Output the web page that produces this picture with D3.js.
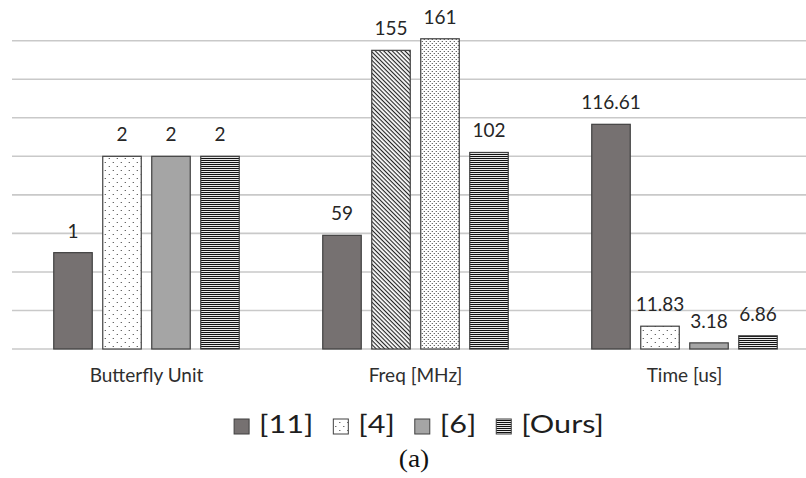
<!DOCTYPE html>
<html>
<head>
<meta charset="utf-8">
<script src="https://cdn.jsdelivr.net/npm/d3@7"></script>
<style>
  body { margin: 0; background: #fff; }
  svg { display: block; }
</style>
</head>
<body>
<div id="app"></div>
<script>
const W = 806;
const H = 478;

// data
const categories = ["Butterfly Unit", "Freq [MHz]", "Time [us]"];
const series = ["[11]", "[4]", "[6]", "[Ours]"];
const butterflyValues = [1, 2, 2, 2];
const freqValues = [59, 155, 161, 102];
const timeValues = [116.61, 11.83, 3.18, 6.86];
// butterfly counts are drawn 50x taller on the shared hidden axis
const groupScale = [50, 1, 1];
const gridTicks = [0, 20, 40, 60, 80, 100, 120, 140, 160];

const groups = [butterflyValues, freqValues, timeValues];

const svg = d3.select("#app").append("svg").attr("width", W).attr("height", H);

//patterns
const defs = svg.append("defs");

const dots = (id, size, pts) => {
  const p = defs.append("pattern").attr("id", id)
    .attr("patternUnits", "userSpaceOnUse")
    .attr("width", size[0]).attr("height", size[1]);
  p.append("rect").attr("width", size[0]).attr("height", size[1]).attr("fill", "#fff");
  pts.forEach(([x, y]) => p.append("rect").attr("x", x).attr("y", y)
    .attr("width", 1).attr("height", 1).attr("fill", "#333"));
};
dots("dotsSparse", [8, 8], [[2, 2], [6, 6]]);
dots("dotsDense", [4, 4], [[1, 1], [3, 3]]);

const stripes = defs.append("pattern").attr("id", "hlines")
  .attr("patternUnits", "userSpaceOnUse").attr("width", 4).attr("height", 2);
stripes.append("rect").attr("width", 4).attr("height", 2).attr("fill", "#e8e8e8");
stripes.append("rect").attr("width", 4).attr("height", 1).attr("fill", "#111");

const diag = defs.append("pattern").attr("id", "diag")
  .attr("patternUnits", "userSpaceOnUse").attr("width", 3).attr("height", 3)
  .attr("patternTransform", "rotate(45)");
diag.append("rect").attr("width", 3).attr("height", 3).attr("fill", "#fafafa");
diag.append("rect").attr("width", 3).attr("height", 1.1).attr("fill", "#222");

const seriesFill = ["#767171", "url(#dotsSparse)", "#a5a5a5", "url(#hlines)"];
const fillFor = (gi, si) => {
  // the frequency group uses other textures for [4] and [6]
  if (gi === 1 && si === 1) return "url(#diag)";
  if (gi === 1 && si === 2) return "url(#dotsDense)";
  return seriesFill[si];
};

//scales
const x0 = d3.scaleBand().domain(categories).range([12, 819]);
const x1 = d3.scaleBand().domain(series).range([0, x0.bandwidth()])
  .paddingInner(0.214).paddingOuter(0.852);
const y = d3.scaleLinear().domain([0, 160]).range([349, 40.7]);

//grid
svg.append("g")
  .selectAll("line")
  .data(gridTicks)
  .enter()
  .append("line")
  .attr("x1", 12).attr("x2", W)
  .attr("y1", (d) => y(d)).attr("y2", (d) => y(d))
  .attr("stroke", "#c9c9c9")
  .attr("stroke-width", 1.6);

//bars
const rows = [];
groups.forEach((vals, gi) => vals.forEach((v, si) => rows.push({ gi, si, v })));

const bar = svg.append("g")
  .selectAll("g")
  .data(rows)
  .enter()
  .append("g")
  .attr("transform", (d) => `translate(${x0(categories[d.gi]) + x1(series[d.si])},0)`);

bar.append("rect")
  .attr("x", 0)
  .attr("y", (d) => y(d.v * groupScale[d.gi]))
  .attr("width", x1.bandwidth())
  .attr("height", (d) => y(0) - y(d.v * groupScale[d.gi]))
  .attr("fill", (d) => fillFor(d.gi, d.si))
  .attr("stroke", "#404040")
  .attr("stroke-width", 1.2);

bar.append("text")
  .attr("x", x1.bandwidth() / 2)
  .attr("y", (d) => y(d.v * groupScale[d.gi]) - 15)
  .attr("text-anchor", "middle")
  .attr("font-family", "Lato, sans-serif")
  .attr("font-size", 19)
  .attr("fill", "#262626")
  .text((d) => d.v);

//category labels
svg.append("g")
  .selectAll("text")
  .data(categories)
  .enter()
  .append("text")
  .attr("x", (d) => x0(d) + x0.bandwidth() / 2)
  .attr("y", 382)
  .attr("text-anchor", "middle")
  .attr("font-family", "Lato, sans-serif")
  .attr("font-size", 19)
  .attr("fill", "#2e2e2e")
  .text((d) => d);

//legend
const stretch = 1.2;
const legend = svg.append("g");
const items = legend.selectAll("g").data(series).enter().append("g");
items.append("rect")
  .attr("x", 0).attr("y", 419)
  .attr("width", 15).attr("height", 15)
  .attr("fill", (d, i) => seriesFill[i])
  .attr("stroke", "#404040").attr("stroke-width", 1);
items.append("text")
  .attr("transform", `translate(25,433) scale(${stretch},1)`)
  .attr("font-family", "Lato, sans-serif")
  .attr("font-size", 25.5)
  .attr("fill", "#1e1e1e")
  .text((d) => d);

let cx = 0;
const widths = [];
items.each(function () {
  const tw = d3.select(this).select("text").node().getComputedTextLength() * stretch;
  widths.push(25 + tw);
});
const gap = 20;
const total = d3.sum(widths) + gap * (widths.length - 1);
cx = 419 - total / 2;
items.attr("transform", (d, i) => {
  const t = `translate(${cx},0)`;
  cx += widths[i] + gap;
  return t;
});

//caption
svg.append("text")
  .attr("transform", `translate(414,467) scale(1.1,1)`)
  .attr("text-anchor", "middle")
  .attr("font-family", "'Liberation Serif', 'Times New Roman', serif")
  .attr("font-size", 25)
  .attr("fill", "#111")
  .text("(a)");
</script>
</body>
</html>
